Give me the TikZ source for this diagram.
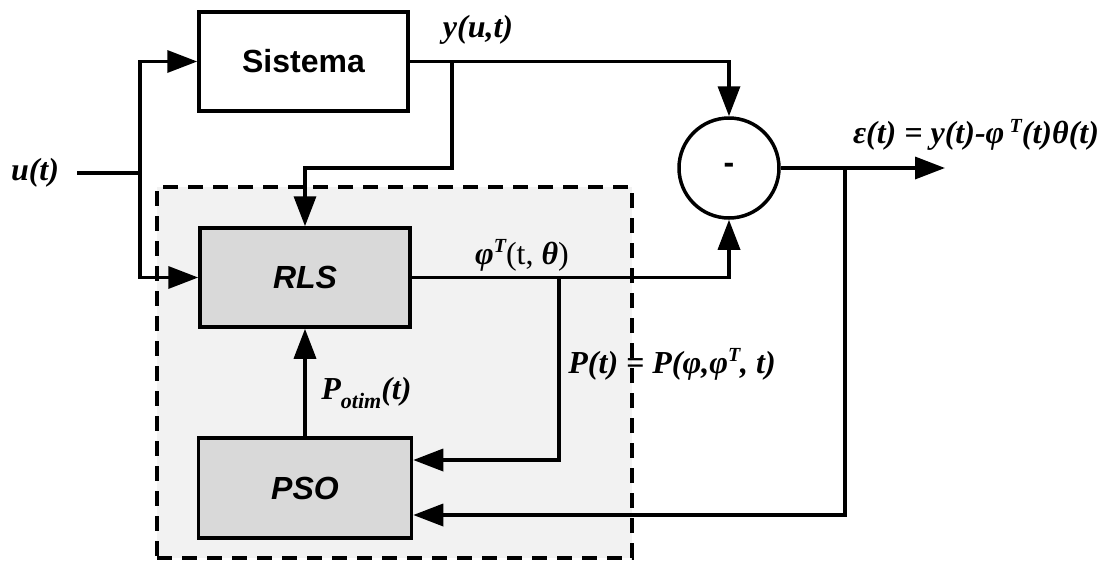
\documentclass[tikz,border=0pt]{standalone}
\usepackage{fontspec}
\setmainfont{Liberation Serif}
\newfontfamily\arialf{Liberation Sans}
\usetikzlibrary{arrows.meta}
\begin{document}
\begin{tikzpicture}[x=0.5pt,y=-0.5pt,
  line/.style={line width=1.75pt},
  arr/.style={line width=1.75pt,-{Triangle[length=15pt,width=11pt]}},
  blk/.style={draw,line width=1.75pt,inner sep=0pt,
    font=\arialf\bfseries\fontsize{16}{19}\selectfont},
  region/.style={draw,line width=1.75pt,dash pattern=on 7.5pt off 5pt,fill=black!5,inner sep=0pt},
  lab/.style={inner sep=0pt,font=\bfseries\itshape\fontsize{16}{19}\selectfont}]
\fill[white] (0,0) rectangle (1110,563);
\useasboundingbox (0,0) rectangle (1110,563);
% group region
\node[region,minimum width=237.5pt,minimum height=185.5pt] (grp) at (394.5,372.5) {};
% blocks
\node[blk,fill=white,minimum width=104.5pt,minimum height=49.5pt] (sis) at (303.5,61.5) {Sistema};
\node[blk,fill=black!15,minimum width=105pt,minimum height=49.5pt] (rls) at (305,277.5) {\itshape RLS};
\node[blk,fill=black!15,minimum width=106.5pt,minimum height=50pt] (pso) at (305,488) {\itshape PSO};
\node[blk,circle,fill=white,minimum size=50pt] (sum) at (729,168) {-};
% coordinates
\coordinate (uin) at (77,173);
\coordinate (j1) at (140,173);
\coordinate (jy) at (452,61.5);
\coordinate (jy2) at (452,168);
\coordinate (jp) at (559,277.5);
\coordinate (jp2) at (559,460);
\coordinate (out) at (945,168);
\coordinate (je) at (845,168);
\coordinate (je2) at (845,515);
% connectors
\draw[line] (uin) -- (j1);
\draw[arr] (j1) |- (sis.west);
\draw[arr] (j1) |- (rls.west);
\draw[arr] (sis.east) -| (sum.north);
\draw[arr] (jy) -- (jy2) -| (rls.north);
\draw[arr] (rls.east) -| (sum.south);
\draw[arr] (jp) -- (jp2) -- (pso.east |- jp2);
\draw[arr] (sum.east) -- (out);
\draw[arr] (je) -- (je2) -- (pso.east |- je2);
\draw[arr] (pso.north) -- (rls.south);
% labels
\node[lab] (ulab) at (35,173) {u(t)};
\node[lab] (ylab) at (478,30) {y(u,t)};
\node[lab] (elab) at (976,135) {ε(t) = y(t)-φ\,\raisebox{0.8ex}{\fontsize{10}{12}\selectfont T}(t)θ(t)};
\node[lab] (philab) at (522,255) {φ\raisebox{0.8ex}{\fontsize{10}{12}\selectfont T}\mdseries\upshape(t, \bfseries\itshape θ\mdseries\upshape)};
\node[lab,anchor=west] (plab) at (568,364) {P(t) = P(φ,φ\raisebox{0.8ex}{\fontsize{10}{12}\selectfont T}, t)};
\node[lab,anchor=west] (potlab) at (321,393) {P\raisebox{-0.6ex}{\fontsize{11}{13}\selectfont otim}(t)};
\end{tikzpicture}
\end{document}
